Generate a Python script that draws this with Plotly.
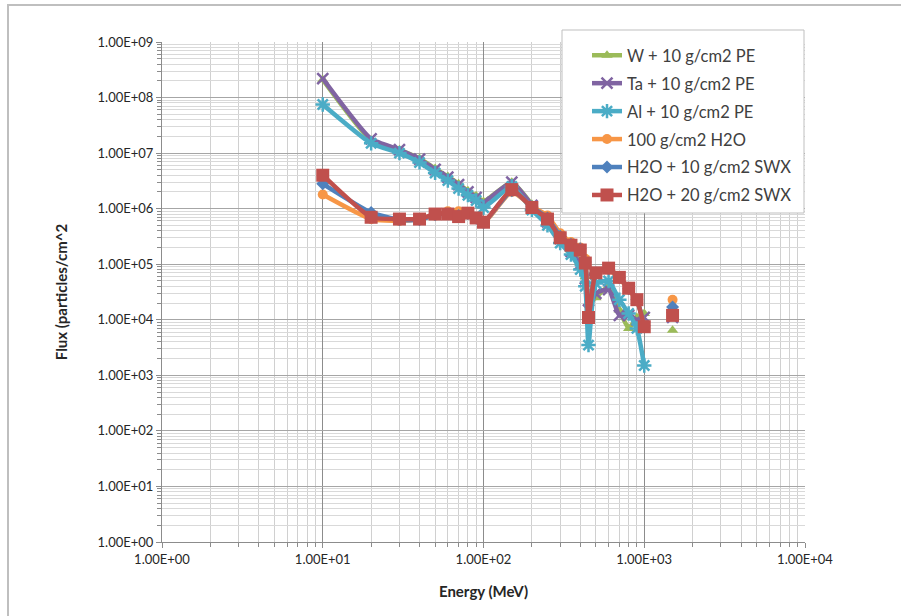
import plotly.graph_objects as go

energy = [10, 20, 30, 40, 50, 60, 70, 80, 90, 100, 150, 200, 250, 300, 350, 400, 430, 450, 500, 600, 700, 800, 900, 1000, 1200, 1500]

w_pe = [2.1e8, 1.7e7, 1.15e7, 8.0e6, 5.3e6, 3.8e6, 2.8e6, 2.1e6, 1.7e6, 1.35e6, 3.0e6, 1.2e6, 6.0e5, 3.0e5, 1.8e5, 1.1e5, 6.0e4, 2.0e4, 2.5e4, 4.0e4, 1.5e4, 7.0e3, 1.1e4, 1.3e4, None, 6.5e3]
ta_pe = [2.2e8, 1.8e7, 1.15e7, 7.8e6, 5.1e6, 3.7e6, 2.7e6, 2.0e6, 1.6e6, 1.3e6, 3.0e6, 1.15e6, 5.8e5, 2.9e5, 1.7e5, 1.0e5, 5.5e4, 1.5e4, 3.0e4, 3.5e4, 1.2e4, 1.2e4, 1.0e4, 1.1e4, None, 1.1e4]
al_pe = [7.5e7, 1.5e7, 1.0e7, 6.8e6, 4.4e6, 3.2e6, 2.3e6, 1.75e6, 1.4e6, 1.05e6, 2.5e6, 9.5e5, 5.0e5, 2.4e5, 1.5e5, 8.0e4, 4.0e4, 3.5e3, 4.5e4, 5.0e4, 2.3e4, 1.3e4, 7.0e3, 1.5e3, None, None]
h2o_100 = [1.8e6, 6.5e5, 6.0e5, 6.5e5, 7.5e5, 9.0e5, 9.0e5, 8.5e5, 6.5e5, 5.5e5, 2.0e6, 1.1e6, 7.5e5, 3.6e5, 2.5e5, 2.0e5, 1.25e5, 1.2e4, 7.0e4, 8.0e4, 5.5e4, 3.5e4, 2.2e4, 8.0e3, None, 2.3e4]
h2o_swx10 = [2.8e6, 8.5e5, 6.3e5, 6.3e5, 7.8e5, 8.0e5, 7.5e5, 8.2e5, 6.7e5, 5.6e5, 2.1e6, 1.08e6, 6.8e5, 3.2e5, 2.3e5, 1.9e5, 1.1e5, 1.1e4, 7.0e4, 8.3e4, 5.7e4, 3.6e4, 2.3e4, 7.8e3, None, 1.7e4]
h2o_swx20 = [4.0e6, 7.0e5, 6.5e5, 6.5e5, 8.0e5, 8.0e5, 7.2e5, 8.3e5, 6.8e5, 5.7e5, 2.2e6, 1.05e6, 6.5e5, 3.0e5, 2.2e5, 1.8e5, 1.05e5, 1.1e4, 7.0e4, 8.5e4, 5.8e4, 3.7e4, 2.3e4, 7.5e3, None, 1.2e4]

names = ["W + 10 g/cm2 PE", "Ta + 10 g/cm2 PE", "Al + 10 g/cm2 PE",
         "100 g/cm2 H2O", "H2O + 10 g/cm2 SWX", "H2O + 20 g/cm2 SWX"]
series = [w_pe, ta_pe, al_pe, h2o_100, h2o_swx10, h2o_swx20]
colors = ["#9BBB59", "#8064A2", "#4BACC6", "#F79646", "#4F81BD", "#C0504D"]
symbols = ["triangle-up", "x-thin-open", "asterisk-open", "circle", "diamond", "square"]
sizes = [10, 11, 12, 10, 10, 13]

x_tickvals = [1, 10, 100, 1000, 10000]
x_ticktext = ["1.00E+00", "1.00E+01", "1.00E+02", "1.00E+03", "1.00E+04"]
y_tickvals = [10 ** k for k in range(10)]
y_ticktext = ["1.00E+%02d" % k for k in range(10)]

fig = go.Figure()
for i, (nm, ys) in enumerate(zip(names, series)):
    fig.add_trace(go.Scatter(
        x=energy, y=ys, name=nm, mode="lines+markers",
        legendgroup=str(i),
        line=dict(color=colors[i], width=4.5, shape="spline", smoothing=0.5),
        marker=dict(symbol=symbols[i], size=sizes[i], color=colors[i],
                    line=dict(color=colors[i], width=2.5 if i in (1, 2) else 0)),
        connectgaps=False,
    ))

PX0, PW, PY0, PH = 162, 643, 542, 500


def px_x(v):
    return (v - PX0) / PW


def px_y(v):
    return (PY0 - v) / PH


font_family = "Lato, 'Open Sans', sans-serif"
fig.update_layout(
    width=901, height=616,
    margin=dict(l=162, r=96, t=42, b=74),
    paper_bgcolor="white", plot_bgcolor="white",
    font=dict(family=font_family, color="#404040", size=12),
    showlegend=True,
    legend=dict(x=px_x(587), y=px_y(38), xanchor="left", yanchor="top",
                bgcolor="rgba(0,0,0,0)", borderwidth=0,
                font=dict(size=16.5, color="#404040"),
                tracegroupgap=3.5, itemwidth=30),
    xaxis=dict(type="log", range=[0, 4], tickvals=x_tickvals, ticktext=x_ticktext,
               showgrid=True, gridcolor="#8C8C8C", gridwidth=1,
               showline=True, linecolor="#8C8C8C", linewidth=1,
               ticks="outside", ticklen=5, tickcolor="#8C8C8C",
               minor=dict(dtick="D1", showgrid=True, gridcolor="#D0D0D0",
                          ticks="outside", ticklen=4, tickcolor="#8C8C8C"),
               tickfont=dict(size=13, color="#262626"),
               title=dict(text="<b>Energy (MeV)</b>", font=dict(size=15, color="#262626"), standoff=20),
               zeroline=False),
    yaxis=dict(type="log", range=[0, 9], tickvals=y_tickvals, ticktext=y_ticktext,
               showgrid=True, gridcolor="#A6A6A6", gridwidth=1,
               showline=True, linecolor="#8C8C8C", linewidth=1,
               ticks="outside", ticklen=5, tickcolor="#8C8C8C",
               minor=dict(dtick="D1", showgrid=True, gridcolor="#D9D9D9",
                          ticks="outside", ticklen=4, tickcolor="#8C8C8C"),
               tickfont=dict(size=13, color="#262626"),
               title=dict(text="<b>Flux (particles/cm^2</b>", font=dict(size=15, color="#262626"), standoff=26),
               zeroline=False),
)

# outer chart frame
fig.add_shape(type="rect", xref="paper", yref="paper",
              x0=px_x(8), x1=px_x(1000), y0=px_y(700), y1=px_y(5),
              line=dict(color="#BFBFBF", width=2), fillcolor="rgba(0,0,0,0)", layer="below")
# legend box
fig.add_shape(type="rect", xref="paper", yref="paper",
              x0=px_x(562), x1=px_x(804), y0=px_y(213), y1=px_y(30),
              line=dict(color="#BFBFBF", width=1), fillcolor="white", layer="above")

fig.write_html("out.html")
